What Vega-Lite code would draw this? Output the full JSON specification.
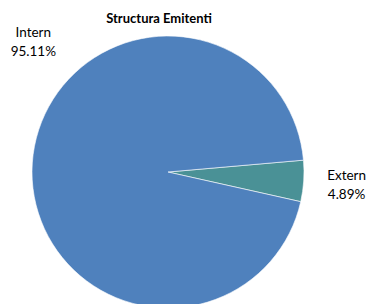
{
  "$schema": "https://vega.github.io/schema/vega-lite/v6.json",
  "autosize": {"type": "none"},
  "width": 336,
  "height": 264,
  "padding": {"left": 0, "top": 40, "right": 32, "bottom": 0},
  "background": "white",
  "title": {"text": "Structura Emitenti", "font": "Lato", "fontSize": 13, "fontWeight": "bold", "color": "#000000", "anchor": "middle", "offset": 0, "dx": -9},
  "config": {"view": {"stroke": null}},
  "data": {"values": [
    {"cat": "Extern", "value": 4.89, "pct": "4.89%"},
    {"cat": "Intern", "value": 95.11, "pct": "95.11%"}
  ]},
  "encoding": {
    "theta": {"field": "value", "type": "quantitative", "stack": true, "scale": {"range": [1.4835, 7.7667]}},
    "order": {"field": "cat", "sort": "ascending"}
  },
  "layer": [
    {
      "mark": {"type": "arc", "radius": 136, "stroke": "#ffffff", "strokeWidth": 0.6},
      "encoding": {
        "color": {"field": "cat", "type": "nominal", "legend": null, "scale": {"domain": ["Extern", "Intern"], "range": ["#4A9196", "#4F81BD"]}}
      }
    },
    {
      "mark": {"type": "text", "radius": 179, "dy": -8, "font": "Lato", "fontSize": 13.5, "color": "#000000", "baseline": "middle", "align": "center"},
      "encoding": {"text": {"condition": {"test": "datum.cat === 'Extern'", "field": "cat"}, "value": ""}}
    },
    {
      "mark": {"type": "text", "radius": 179, "dy": 11.5, "font": "Lato", "fontSize": 13.5, "color": "#000000", "baseline": "middle", "align": "center"},
      "encoding": {"text": {"condition": {"test": "datum.cat === 'Extern'", "field": "pct"}, "value": ""}}
    },
    {
      "mark": {"type": "text", "radius": 135, "dy": -130.5, "font": "Lato", "fontSize": 13.5, "color": "#000000", "baseline": "middle", "align": "center"},
      "encoding": {"text": {"condition": {"test": "datum.cat === 'Intern'", "field": "cat"}, "value": ""}}
    },
    {
      "mark": {"type": "text", "radius": 135, "dy": -111, "font": "Lato", "fontSize": 13.5, "color": "#000000", "baseline": "middle", "align": "center"},
      "encoding": {"text": {"condition": {"test": "datum.cat === 'Intern'", "field": "pct"}, "value": ""}}
    }
  ]
}
